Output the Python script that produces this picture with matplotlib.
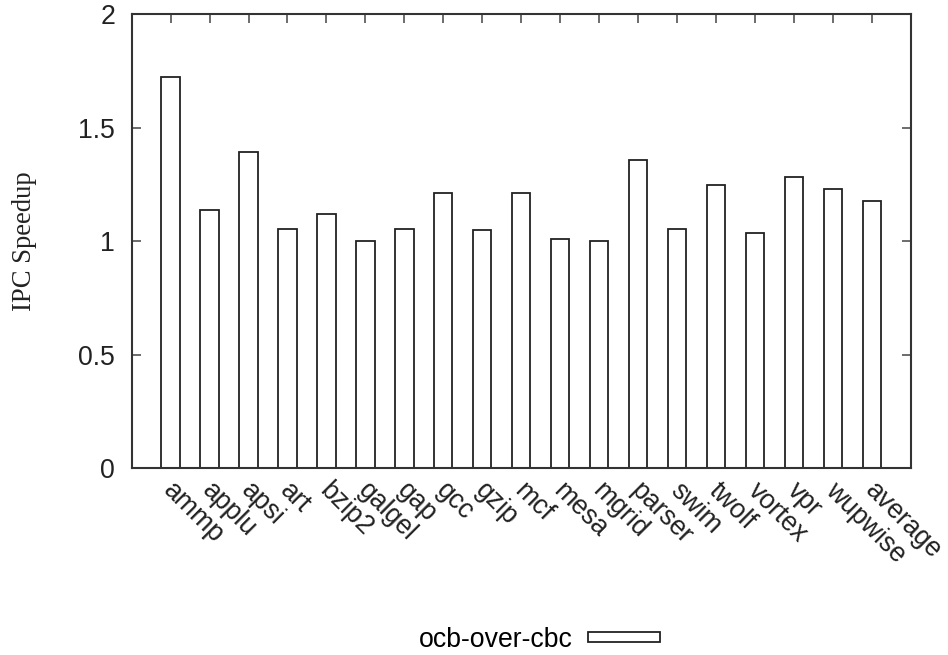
import matplotlib
matplotlib.use("Agg")
import matplotlib.pyplot as plt
import matplotlib.transforms as mtransforms
import numpy as np

# benchmarks and IPC speedup of ocb over cbc
benchmarks = ["ammp", "applu", "apsi", "art", "bzip2", "galgel", "gap", "gcc",
              "gzip", "mcf", "mesa", "mgrid", "parser", "swim", "twolf",
              "vortex", "vpr", "wupwise", "average"]
speedup = [1.724, 1.137, 1.391, 1.052, 1.118, 1.001, 1.055, 1.211,
           1.049, 1.214, 1.010, 1.001, 1.358, 1.055, 1.248,
           1.035, 1.283, 1.229, 1.177]
yticks = [0, 0.5, 1, 1.5, 2]
ytick_labels = ["0", "0.5", "1", "1.5", "2"]
series_name = "ocb-over-cbc"

plt.rcParams['font.family'] = ['Liberation Sans', 'DejaVu Sans']
fs = 19.2
dark = '#222222'

fig = plt.figure(figsize=(9.48, 6.55), dpi=100)
ax = fig.add_axes([0.1389, 0.2855, 0.8218, 0.6927])

x = np.arange(len(benchmarks))
ax.bar(x, speedup, width=0.47, facecolor='white', edgecolor=dark,
       linewidth=1.3, label=series_name)

ax.set_xlim(-1, len(benchmarks))
ax.set_ylim(0, 2)
ax.set_yticks(yticks)
ax.set_yticklabels(ytick_labels, fontsize=fs, color=dark)
ax.set_xticks(x)
ax.set_xticklabels(benchmarks, fontsize=fs, color=dark, rotation=-45,
                   ha='left', va='top', rotation_mode='anchor')

# gnuplot style: inward ticks, mirrored on top and right
ax.tick_params(axis='y', direction='in', length=6.2, width=1.1, color='#444444',
               right=True, pad=12)
ax.tick_params(axis='x', direction='in', length=6.2, width=1.1, color='#444444',
               top=True, bottom=False, pad=7)
for sp in ax.spines.values():
    sp.set_linewidth(1.5)
    sp.set_color('#333333')

# nudge rotated labels a little to the right of the tick
# (after tick_params, which resets the label transforms)
shift = mtransforms.ScaledTranslation(0.06, 0, fig.dpi_scale_trans)
for lbl in ax.get_xticklabels():
    lbl.set_transform(lbl.get_transform() + shift)

ax.set_ylabel("IPC Speedup", fontsize=fs, family=['Liberation Serif', 'DejaVu Serif'],
              color=dark)
ax.yaxis.set_label_coords(-0.121, 0.5)

fig.legend(loc='center', bbox_to_anchor=(0.5686, 0.023), frameon=False,
           markerfirst=False, fontsize=fs, handlelength=2.67, handleheight=0.22,
           handletextpad=0.6, borderpad=0, borderaxespad=0)

fig.savefig("out.png", dpi=100)
